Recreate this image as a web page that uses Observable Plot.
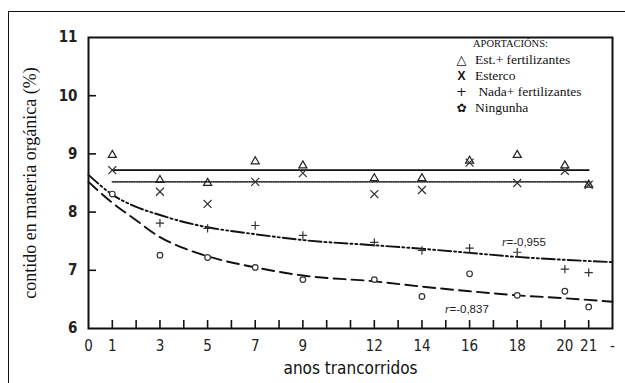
<!DOCTYPE html>
<html>
<head>
<meta charset="utf-8">
<script src="https://cdn.jsdelivr.net/npm/d3@7"></script>
<script src="https://cdn.jsdelivr.net/npm/@observablehq/plot@0.6"></script>
<style>
  html, body { margin: 0; padding: 0; background: #fff; }
  #wrap { position: relative; width: 625px; height: 383px; overflow: hidden; }
  #border { position: absolute; left: 8px; top: 11px; width: 640px; height: 400px; border-left: 1.5px solid #111; border-top: 1.5px solid #111; }
  #chart { position: absolute; left: 0; top: 0; }
  .legend { position: absolute; left: 448px; top: 38px; font-family: "Liberation Serif", "DejaVu Serif", "Times New Roman", serif; color: #111; }
  .legend .hdr { position: absolute; left: 25px; top: 0px; font-size: 10.5px; white-space: nowrap; }
  .legend .row { position: absolute; left: 0; white-space: nowrap; font-size: 13.5px; height: 16px; line-height: 16px; }
  .legend .sym { display: inline-block; width: 27px; text-align: center; font-family: "DejaVu Sans", sans-serif; font-weight: bold; }
  .ann { position: absolute; font-family: "Liberation Sans Narrow", "Liberation Sans", sans-serif; font-size: 11.5px; color: #222; white-space: nowrap; }
  .ann i { font-family: "Liberation Serif", serif; }
</style>
</head>
<body>
<div id="wrap">
  <div id="border"></div>
  <div id="chart"></div>
  <div class="legend">
    <div class="hdr">APORTACIÓNS:</div>
    <div class="row" style="top:14px"><span class="sym" style="font-size:13px">△</span>Est.+ fertilizantes</div>
    <div class="row" style="top:30px"><span class="sym" style="font-family:'Liberation Sans',sans-serif;font-size:12px">X</span>Esterco</div>
    <div class="row" style="top:46px"><span class="sym" style="font-weight:normal;font-size:13px">+</span>&nbsp;Nada+ fertilizantes</div>
    <div class="row" style="top:62px"><span class="sym" style="font-size:12px">✿</span>Ningunha</div>
  </div>
  <div class="ann" style="left:502px; top:236px;"><i>r</i>=-0,955</div>
  <div class="ann" style="left:445px; top:303px;"><i>r</i>=-0,837</div>
</div>
<script>
// ---- data ----
const anos = [1, 3, 5, 7, 9, 12, 14, 16, 18, 20, 21];
const estFert = [8.98, 8.55, 8.50, 8.87, 8.80, 8.58, 8.58, 8.88, 8.98, 8.80, 8.47];
const esterco = [8.72, 8.35, 8.14, 8.52, 8.67, 8.31, 8.38, 8.85, 8.50, 8.71, 8.47];
const anosNada = [3, 5, 7, 9, 12, 14, 16, 18, 20, 21];
const nadaFert = [7.81, 7.72, 7.77, 7.60, 7.48, 7.34, 7.38, 7.31, 7.02, 6.96];
const ningunha = [8.31, 7.26, 7.22, 7.05, 6.84, 6.84, 6.55, 6.94, 6.57, 6.64, 6.37];

// fitted lines
const lineAnos = [1, 21];
const lineEstFert = [8.72, 8.72];
const lineEsterco = [8.52, 8.52];
const curveAnos = [0, 1, 2, 3, 4, 5, 7, 9, 12, 14, 16, 18, 20, 22];
const curveNada = [8.64, 8.30, 8.09, 7.95, 7.83, 7.74, 7.62, 7.52, 7.43, 7.37, 7.30, 7.23, 7.18, 7.14];
const curveNingunha = [8.52, 8.16, 7.86, 7.57, 7.38, 7.24, 7.05, 6.91, 6.81, 6.72, 6.64, 6.57, 6.52, 6.46];

// axis ticks
const xTickLabels = [0, 1, 3, 5, 7, 9, 12, 14, 16, 18, 20, 21, 22];
const xTickMarks = d3.range(1, 22);
const yTickLabels = [6, 7, 8, 9, 10, 11];
const yTickMarks = [7, 8, 9, 10];

const pts = (xs, ys) => xs.map((x, i) => ({x, y: ys[i]}));

const ink = "#111";
const tickFont = "'Liberation Sans Narrow', 'DejaVu Sans Condensed', 'Liberation Sans', sans-serif";

const chart = Plot.plot({
  width: 625,
  height: 383,
  marginLeft: 88,
  marginRight: 13,
  marginTop: 37,
  marginBottom: 55,
  style: {background: "transparent", overflow: "visible"},
  x: {domain: [0, 22]},
  y: {domain: [6, 11]},
  marks: [
    // axes labels
    Plot.axisX({ticks: xTickLabels, tickFormat: d => d === 22 ? "-" : String(d), tickSize: 0, tickPadding: 12,
      fontSize: 15, fontFamily: tickFont, fill: "#222", label: null}),
    Plot.axisY({ticks: yTickLabels, tickFormat: d => String(d), tickSize: 0, tickPadding: 11,
      fontSize: 15, fontFamily: tickFont, fontWeight: "bold", fill: "#222", label: null}),
    // inward tick marks
    Plot.tickX(xTickMarks, {x: d => d, insetTop: 283, stroke: ink, strokeWidth: 1.6}),
    Plot.tickY(yTickMarks, {y: d => d, insetRight: 516, stroke: ink, strokeWidth: 1.6}),
    // axis titles
    Plot.text(["anos trancorridos"], {frameAnchor: "bottom", dy: 45, text: d => d, fontSize: 17,
      fontFamily: tickFont, fill: ink}),
    Plot.text(["contido en materia orgánica (%)"], {frameAnchor: "left", dx: -58, rotate: -90, textAnchor: "middle",
      text: d => d, fontSize: 18, fontFamily: "'Liberation Serif', 'DejaVu Serif', 'Times New Roman', serif", fill: ink}),
    // fitted lines
    Plot.line(pts(lineAnos, lineEstFert), {x: "x", y: "y", stroke: ink, strokeWidth: 1.8}),
    Plot.line(pts(lineAnos, lineEsterco), {x: "x", y: "y", stroke: "#333", strokeWidth: 1.6, strokeDasharray: "1.2,1.2"}),
    Plot.line(pts(curveAnos, curveNada), {x: "x", y: "y", curve: "monotone-x", stroke: ink, strokeWidth: 1.9,
      strokeDasharray: "13,3,2,3,2,3"}),
    Plot.line(pts(curveAnos, curveNingunha), {x: "x", y: "y", curve: "monotone-x", stroke: ink, strokeWidth: 1.9,
      strokeDasharray: "12,6"}),
    // points
    Plot.dot(pts(anos, estFert), {x: "x", y: "y", symbol: "triangle", r: 3, stroke: "#222", strokeWidth: 1.2, fill: "none"}),
    Plot.dot(pts(anos, esterco), {x: "x", y: "y", symbol: "times", r: 3.7, stroke: "#333", strokeWidth: 1.2}),
    Plot.dot(pts(anosNada, nadaFert), {x: "x", y: "y", symbol: "plus", r: 2.8, stroke: "#333", strokeWidth: 1.2}),
    Plot.dot(pts(anos, ningunha), {x: "x", y: "y", symbol: "circle", r: 2.8, stroke: "#333", strokeWidth: 1.2, fill: "white"}),
    Plot.frame({stroke: ink, strokeWidth: 2})
  ]
});
document.getElementById("chart").appendChild(chart);
</script>
</body>
</html>
